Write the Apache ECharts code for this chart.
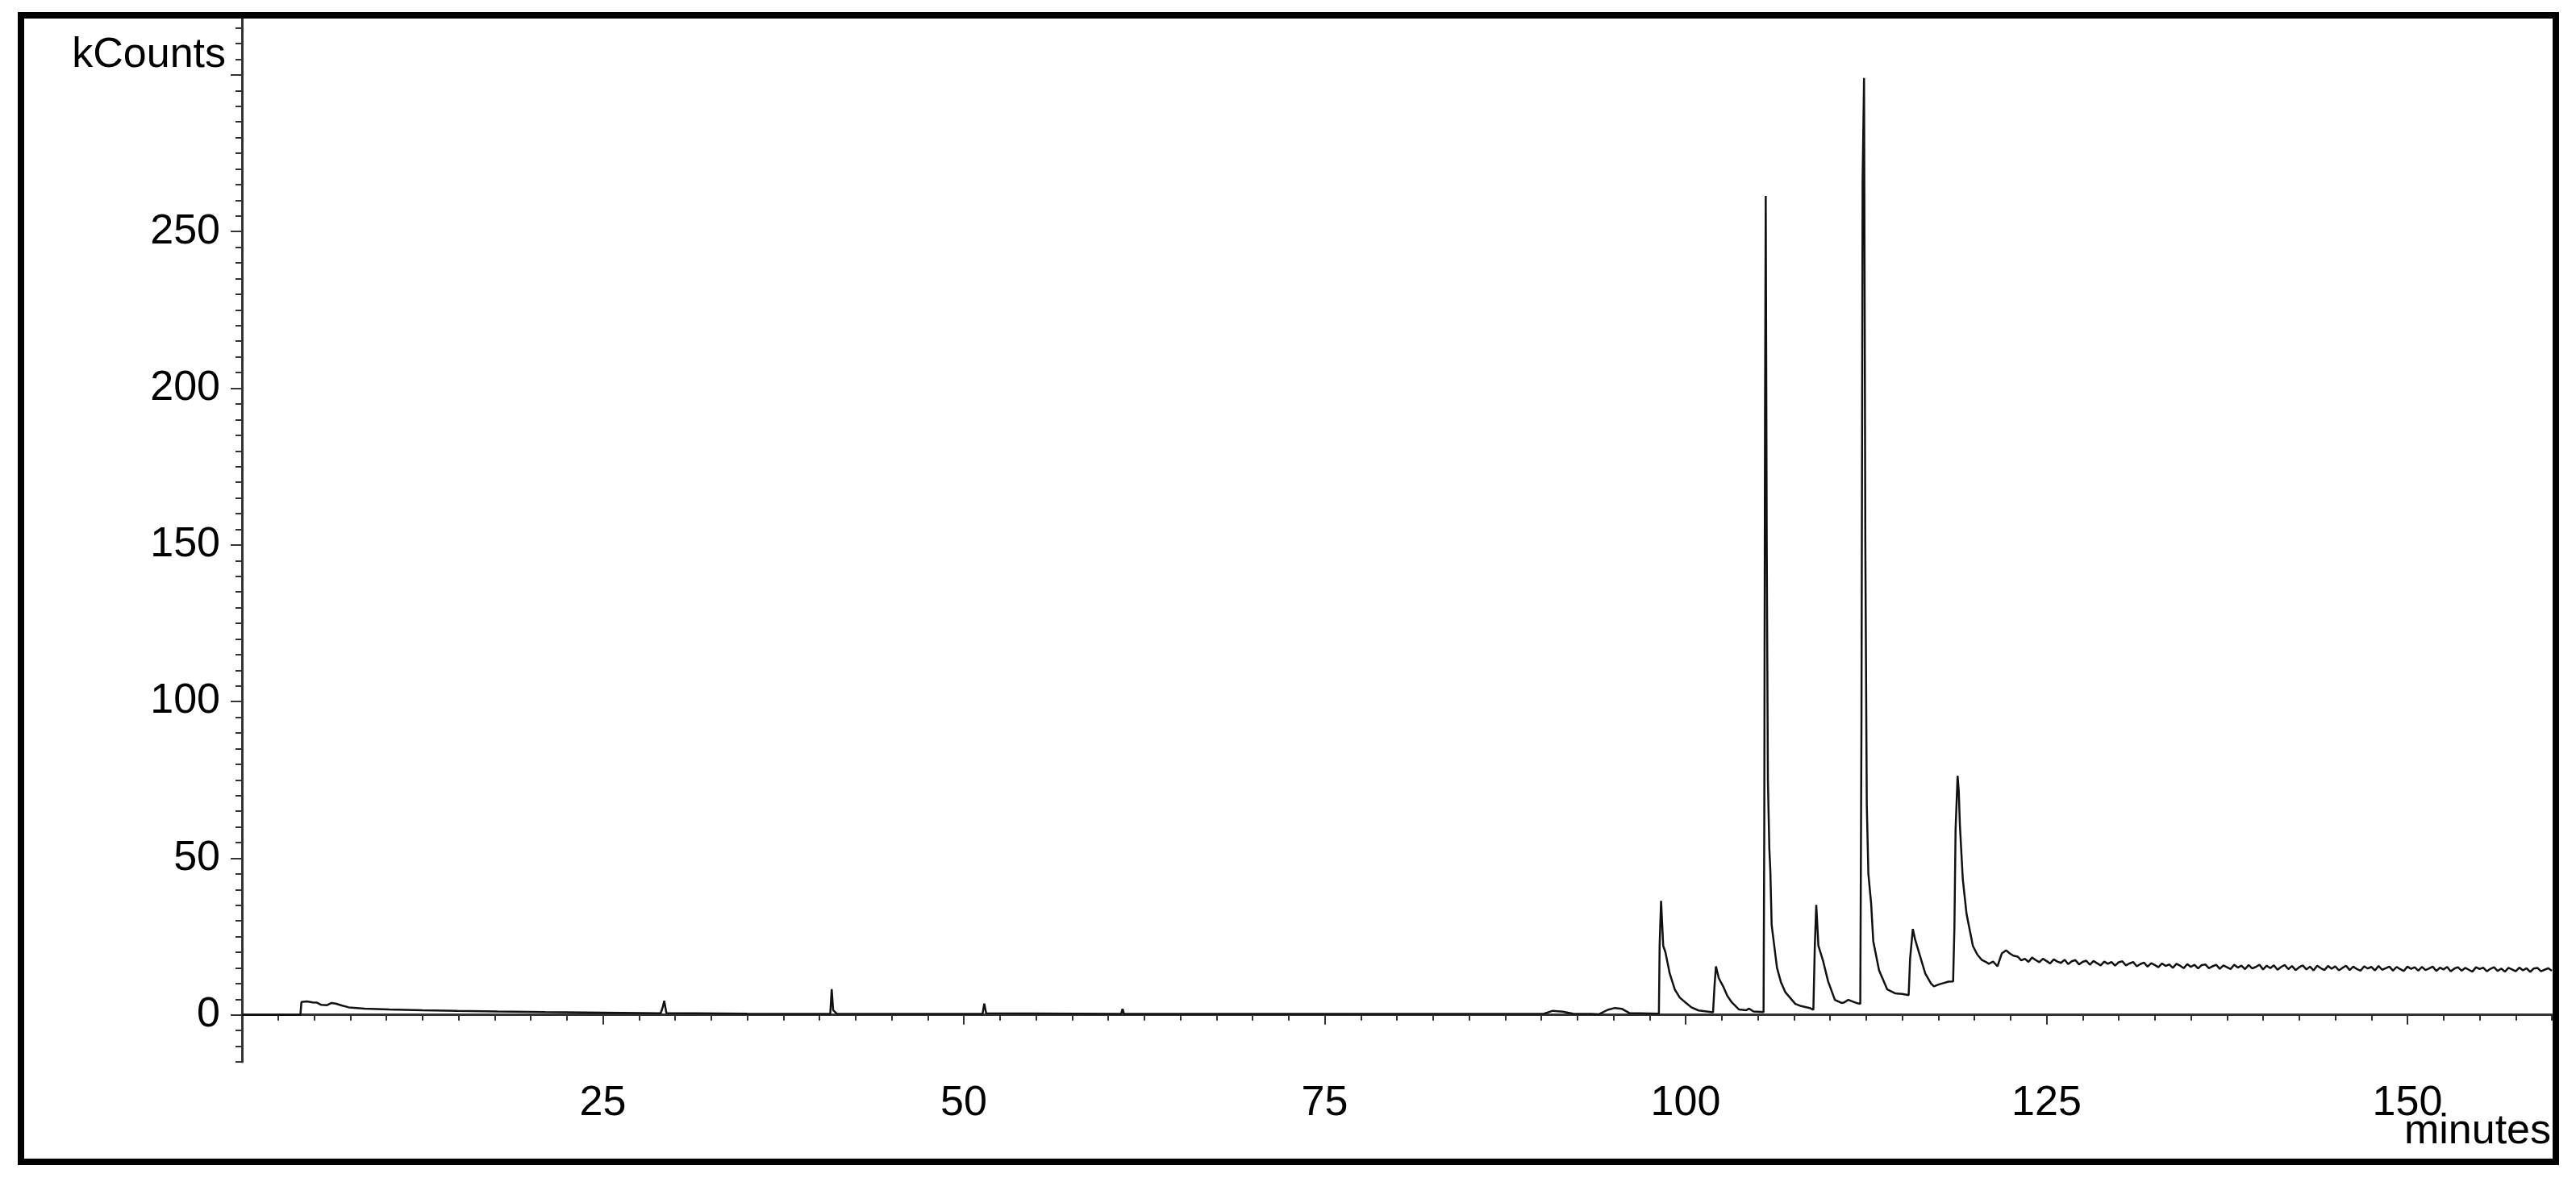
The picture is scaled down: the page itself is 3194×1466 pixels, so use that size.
<!DOCTYPE html>
<html>
<head>
<meta charset="utf-8">
<script src="https://cdn.jsdelivr.net/npm/echarts@6/dist/echarts.min.js"></script>
<style>
html, body { margin: 0; padding: 0; background: #fff; }
#chart { width: 3194px; height: 1466px; }
</style>
</head>
<body>
<div id="chart"></div>
<script>
// retention time (minutes), signal (kCounts)
var earlyTrace = [
  [0, 0], [4.05, 0], [4.12, 4.1], [4.5, 4.3], [4.9, 4.0], [5.2, 3.9], [5.5, 3.2], [5.9, 3.1],
  [6.2, 3.8], [6.5, 3.6], [6.9, 3.0], [7.4, 2.4], [8.5, 2.0], [10.2, 1.7], [12.5, 1.5],
  [14.9, 1.3], [17.7, 1.1], [21, 0.9], [25, 0.7], [29.0, 0.5], [29.15, 2.5], [29.25, 4.5],
  [29.4, 0.6], [35, 0.4], [40.75, 0.3], [40.85, 8.2], [40.95, 1.5], [41.2, 0.4], [51.3, 0.3],
  [51.42, 3.6], [51.55, 0.5], [60.9, 0.3], [61.0, 1.9], [61.1, 0.3], [75, 0.3], [90.2, 0.4],
  [90.8, 1.3], [91.5, 1.0], [92.2, 0.4], [93.5, 0.3], [94.0, 0.2], [94.6, 1.6], [95.1, 2.2],
  [95.6, 1.9], [96.1, 0.6], [98.15, 0.4]
];

var peakTrace = [
  [98.2, 22], [98.3, 36.4], [98.45, 22], [98.6, 20], [98.9, 13.2], [99.25, 8.1], [99.6, 5.5],
  [100.0, 3.9], [100.4, 2.4], [100.9, 1.4], [101.9, 0.8],
  [102.0, 9], [102.1, 15.5], [102.3, 11.7], [102.6, 9.1], [102.9, 6.0], [103.2, 4.0],
  [103.7, 1.7], [104.2, 1.5], [104.4, 2.0], [104.7, 1.1], [105.4, 0.9],
  [105.45, 60], [105.5, 190], [105.55, 261.4], [105.62, 150], [105.7, 75], [105.8, 53],
  [105.87, 46], [105.96, 28.7], [106.33, 15], [106.6, 10.5], [106.9, 7.3], [107.6, 3.5],
  [108.0, 2.8], [108.6, 2.2], [108.85, 1.6],
  [108.95, 22], [109.05, 35.1], [109.2, 22], [109.5, 17.6], [109.87, 10.7], [110.34, 4.8],
  [110.8, 3.8], [111.0, 4.0], [111.27, 4.8], [111.6, 4.2], [111.9, 3.7], [112.1, 3.5],
  [112.18, 92], [112.26, 266], [112.36, 299], [112.45, 150], [112.55, 67], [112.66, 45],
  [112.85, 35.6], [113.0, 23.5], [113.4, 14.2], [113.97, 8.1], [114.5, 6.9], [115.0, 6.7],
  [115.45, 6.3],
  [115.55, 18], [115.74, 27.4], [115.9, 24], [116.2, 19.4], [116.6, 13.2], [117.0, 10.0],
  [117.2, 9.1], [117.6, 9.8], [117.9, 10.2], [118.2, 10.6], [118.53, 10.7],
  [118.62, 28], [118.7, 59], [118.84, 76.3], [118.92, 71.6], [119.0, 60.5], [119.2, 43.3],
  [119.46, 32.2], [119.9, 22], [120.2, 19.3], [120.5, 17.6], [120.8, 16.9], [121.0, 16.3],
  [121.3, 17.0], [121.6, 15.5], [121.9, 19.6], [122.2, 20.6], [122.45, 19.6], [122.7, 18.9]
];

// noisy plateau after the last peak, one reading every 0.25 min from 123 min
var tailStart = 123;
var tailStep = 0.25;
var tailValues = [
  18.6, 17.4, 17.9, 16.9, 18.3, 17.5, 16.8, 17.9, 17.2, 16.4, 17.7, 17.0, 16.6, 17.6, 16.2, 17.1,
  17.5, 16.1, 16.9, 17.3, 16.0, 17.2, 16.5, 15.8, 17.0, 16.3, 16.9, 15.7, 16.8, 17.1, 15.8, 16.4,
  16.9, 15.5, 16.2, 16.7, 15.4, 16.5, 15.9, 15.2, 16.4, 15.6, 16.1, 15.0, 16.3, 15.7, 14.9, 16.2,
  15.3, 16.0, 14.8, 15.9, 16.1, 14.9, 15.5, 16.0, 14.7, 15.8, 15.2, 14.6, 16.0, 15.1, 15.7, 14.6,
  15.9, 14.8, 15.3, 16.0, 14.5, 15.7, 14.9, 15.8, 14.4, 15.3, 15.9, 14.6, 15.6, 14.3, 15.2, 15.8,
  14.5, 15.4, 14.2, 15.7, 14.9, 14.3, 15.6, 14.7, 15.5, 14.2, 15.0, 15.7, 14.3, 15.4, 14.6, 14.1,
  15.5, 14.8, 15.3, 14.2, 15.6, 14.4, 14.9, 15.4, 14.1, 15.3, 14.6, 14.0, 15.4, 14.7, 15.2, 14.1,
  15.3, 14.3, 14.8, 15.4, 14.0, 15.1, 14.5, 15.3, 13.9, 14.8, 15.2, 14.1, 15.0, 14.4, 13.8, 15.2,
  14.6, 15.1, 13.9, 14.7, 15.2, 14.0, 14.8, 13.8, 15.0, 14.5, 13.9, 15.1, 14.2, 14.9, 13.7, 14.8,
  15.0, 13.9, 14.4, 14.9, 14.1
];

var xMajorTicks = [0, 25, 50, 75, 100, 125, 150];
var xLabels = [25, 50, 75, 100, 125, 150];
var yMajorTicks = [0, 50, 100, 150, 200, 250, 300];
var yLabels = [0, 50, 100, 150, 200, 250];

var xMinorTicks = [];
for (var t = 0; t <= 160; t += 2.5) xMinorTicks.push(t);
var yMinorTicks = [];
for (var k = -15; k <= 315; k += 5) yMinorTicks.push(k);

var traceData = earlyTrace.concat(peakTrace).concat(tailValues.map(function (v, i) {
  return [tailStart + i * tailStep, v];
}));

var font = '"Liberation Sans", Arial, sans-serif';
var axisColor = '#333';

var chart = echarts.init(document.getElementById('chart'));
chart.setOption({
  animation: false,
  backgroundColor: '#fff',
  grid: { left: 300, right: 30, top: 23, bottom: 149 },
  xAxis: [
    {
      type: 'value', min: 0, max: 160, position: 'bottom',
      axisLine: { lineStyle: { color: axisColor, width: 3 } },
      splitLine: { show: false },
      axisTick: { customValues: xMinorTicks, length: 7, lineStyle: { color: axisColor, width: 2 } },
      axisLabel: { customValues: xLabels, margin: 26, color: '#000', fontSize: 52, fontFamily: font }
    },
    {
      type: 'value', min: 0, max: 160, position: 'bottom',
      axisLine: { show: false },
      splitLine: { show: false },
      axisTick: { customValues: xMajorTicks, length: 12, lineStyle: { color: axisColor, width: 2 } },
      axisLabel: { show: false }
    }
  ],
  yAxis: [
    {
      type: 'value', min: -15, max: 318, position: 'left',
      axisLine: { show: true, lineStyle: { color: axisColor, width: 3 } },
      splitLine: { show: false },
      axisTick: { show: true, customValues: yMinorTicks, length: 8, lineStyle: { color: axisColor, width: 2 } },
      axisLabel: { customValues: yLabels, margin: 27, color: '#000', fontSize: 52, fontFamily: font }
    },
    {
      type: 'value', min: -15, max: 318, position: 'left',
      axisLine: { show: false },
      splitLine: { show: false },
      axisTick: { show: true, customValues: yMajorTicks, length: 14, lineStyle: { color: axisColor, width: 2 } },
      axisLabel: { show: false }
    }
  ],
  series: [
    {
      type: 'line',
      xAxisIndex: 0,
      yAxisIndex: 0,
      data: traceData,
      symbol: 'none',
      lineStyle: { color: '#111', width: 2.5 }
    }
  ],
  graphic: [
    {
      type: 'rect',
      shape: { x: 26, y: 19, width: 3143, height: 1422 },
      style: { fill: 'none', stroke: '#000', lineWidth: 8 },
      z: 100
    },
    {
      type: 'text',
      x: 280, y: 69,
      style: { text: 'kCounts', font: '52px ' + font, fill: '#000', align: 'right', verticalAlign: 'middle' }
    },
    {
      type: 'text',
      x: 3163, y: 1404,
      style: { text: 'minutes', font: '52px ' + font, fill: '#000', align: 'right', verticalAlign: 'middle' }
    }
  ]
});
</script>
</body>
</html>
